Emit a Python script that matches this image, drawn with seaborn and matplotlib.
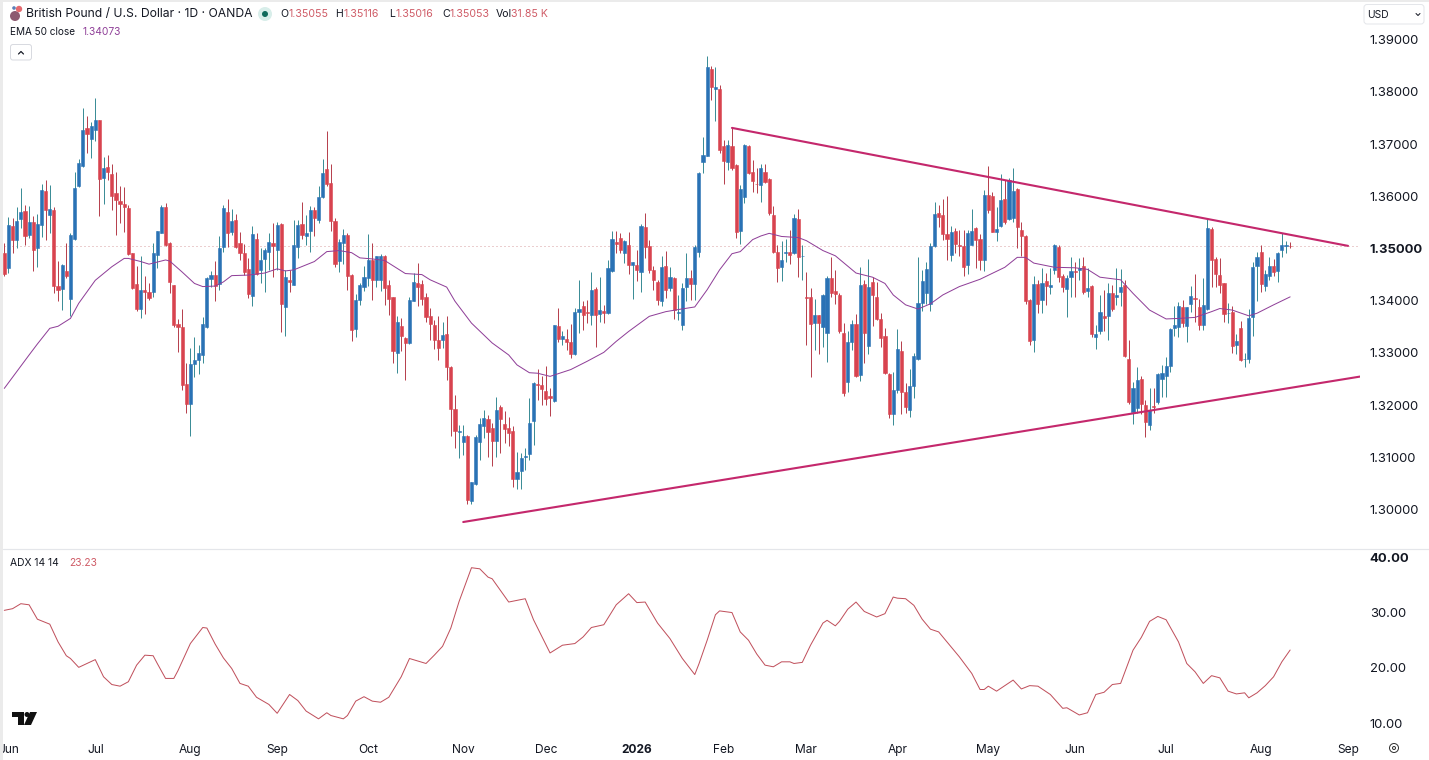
import numpy as np
import pandas as pd
import matplotlib.pyplot as plt
import seaborn as sns
from matplotlib.patches import Circle, FancyBboxPatch, Polygon, Rectangle


# Daily candles
opens = [
    1.3492,1.3462,1.3543,1.3516,1.3556,1.3572,1.3526,1.3551,1.3501,1.3545,
    1.3610,1.3564,1.3574,1.3428,1.3422,1.3457,1.3403,1.3519,1.3620,1.3658,
    1.3731,1.3710,1.3727,1.3746,1.3635,1.3656,1.3643,1.3606,1.3591,1.3586,
    1.3577,1.3491,1.3432,1.3384,1.3420,1.3416,1.3416,1.3487,1.3530,1.3579,
    1.3510,1.3430,1.3355,1.3349,1.3241,1.3203,1.3278,1.3286,1.3296,1.3350,
    1.3441,1.3450,1.3432,1.3503,1.3570,1.3531,1.3554,1.3510,1.3491,1.3460,
    1.3409,1.3519,1.3459,1.3479,1.3494,1.3511,1.3497,1.3547,1.3388,1.3439,
    1.3431,1.3503,1.3547,1.3524,1.3534,1.3574,1.3554,1.3598,1.3652,1.3625,
    1.3553,1.3476,1.3510,1.3526,1.3449,1.3345,1.3401,1.3427,1.3443,1.3477,
    1.3440,1.3440,1.3486,1.3430,1.3407,1.3299,1.3351,1.3328,1.3319,1.3400,
    1.3434,1.3432,1.3408,1.3371,1.3354,1.3325,1.3325,1.3336,1.3273,1.3193,
    1.3149,1.3130,1.3141,1.3017,1.3048,1.3129,1.3159,1.3174,1.3156,1.3132,
    1.3196,1.3164,1.3157,1.3151,1.3059,1.3074,1.3100,1.3107,1.3170,1.3241,
    1.3239,1.3227,1.3218,1.3207,1.3352,1.3327,1.3326,1.3321,1.3297,1.3379,
    1.3390,1.3379,1.3372,1.3423,1.3375,1.3381,1.3376,1.3456,1.3512,1.3520,
    1.3491,1.3507,1.3469,1.3469,1.3454,1.3541,1.3504,1.3459,1.3436,1.3400,
    1.3467,1.3425,1.3444,1.3377,1.3353,1.3426,1.3443,1.3432,1.3494,1.3666,
    1.3678,1.3844,1.3806,1.3806,1.3696,1.3665,1.3697,1.3660,1.3533,1.3598,
    1.3696,1.3646,1.3624,1.3622,1.3646,1.3633,1.3564,1.3493,1.3464,1.3492,
    1.3493,1.3491,1.3556,1.3485,1.3408,1.3408,1.3357,1.3373,1.3350,1.3339,
    1.3444,1.3419,1.3411,1.3339,1.3244,1.3320,1.3355,1.3258,1.3432,1.3314,
    1.3436,1.3407,1.3365,1.3332,1.3260,1.3183,1.3228,1.3304,1.3225,1.3191,
    1.3237,1.3288,1.3395,1.3414,1.3393,1.3504,1.3568,1.3564,1.3528,1.3488,
    1.3534,1.3507,1.3504,1.3469,1.3507,1.3539,1.3518,1.3477,1.3603,1.3601,
    1.3532,1.3543,1.3594,1.3556,1.3558,1.3614,1.3536,1.3524,1.3401,1.3325,
    1.3432,1.3401,1.3438,1.3426,1.3459,1.3502,1.3447,1.3422,1.3446,1.3457,
    1.3459,1.3466,1.3419,1.3429,1.3330,1.3341,1.3371,1.3371,1.3414,1.3408,
    1.3417,1.3430,1.3288,1.3187,1.3194,1.3250,1.3200,1.3162,1.3199,1.3205,
    1.3250,1.3256,1.3275,1.3347,1.3350,1.3387,1.3351,1.3394,1.3405,1.3388,
    1.3353,1.3385,1.3537,1.3479,1.3449,1.3433,1.3376,1.3378,1.3315,1.3347,
    1.3288,1.3289,1.3369,1.3467,1.3494,1.3429,1.3447,1.3466,1.3456,1.3497,1.35055,1.35055,
]
highs = [
    1.3510,1.3560,1.3558,1.3580,1.3616,1.3583,1.3582,1.3563,1.3567,1.3623,
    1.3632,1.3622,1.3580,1.3476,1.3471,1.3510,1.3530,1.3647,1.3671,1.3770,
    1.3753,1.3743,1.3788,1.3747,1.3675,1.3680,1.3661,1.3646,1.3620,1.3618,
    1.3584,1.3492,1.3466,1.3485,1.3447,1.3433,1.3510,1.3533,1.3583,1.3588,
    1.3513,1.3430,1.3364,1.3385,1.3280,1.3310,1.3330,1.3315,1.3368,1.3446,
    1.3457,1.3476,1.3524,1.3583,1.3594,1.3575,1.3566,1.3531,1.3508,1.3481,
    1.3543,1.3529,1.3500,1.3500,1.3529,1.3548,1.3550,1.3548,1.3459,1.3459,
    1.3554,1.3554,1.3590,1.3564,1.3582,1.3580,1.3620,1.3671,1.3726,1.3661,
    1.3558,1.3519,1.3537,1.3529,1.3451,1.3413,1.3433,1.3466,1.3528,1.3510,
    1.3485,1.3490,1.3488,1.3440,1.3408,1.3370,1.3367,1.3331,1.3407,1.3453,
    1.3472,1.3440,1.3415,1.3386,1.3363,1.3370,1.3360,1.3370,1.3274,1.3220,
    1.3162,1.3162,1.3143,1.3053,1.3143,1.3175,1.3191,1.3181,1.3165,1.3215,
    1.3200,1.3188,1.3177,1.3159,1.3111,1.3109,1.3117,1.3213,1.3245,1.3269,
    1.3255,1.3275,1.3232,1.3354,1.3386,1.3341,1.3346,1.3356,1.3386,1.3439,
    1.3399,1.3402,1.3455,1.3426,1.3446,1.3392,1.3478,1.3533,1.3533,1.3530,
    1.3517,1.3531,1.3475,1.3498,1.3547,1.3568,1.3517,1.3466,1.3440,1.3486,
    1.3496,1.3464,1.3446,1.3411,1.3434,1.3491,1.3459,1.3507,1.3646,1.3713,
    1.3869,1.3849,1.3848,1.3814,1.3708,1.3708,1.3731,1.3661,1.3622,1.3700,
    1.3698,1.3670,1.3654,1.3662,1.3662,1.3635,1.3582,1.3507,1.3515,1.3518,
    1.3536,1.3566,1.3575,1.3507,1.3454,1.3425,1.3403,1.3373,1.3413,1.3447,
    1.3483,1.3458,1.3414,1.3357,1.3341,1.3363,1.3374,1.3465,1.3439,1.3479,
    1.3446,1.3435,1.3377,1.3347,1.3261,1.3264,1.3346,1.3322,1.3242,1.3269,
    1.3299,1.3483,1.3459,1.3475,1.3510,1.3590,1.3584,1.3594,1.3600,1.3543,
    1.3539,1.3536,1.3536,1.3536,1.3575,1.3541,1.3527,1.3612,1.3658,1.3609,
    1.3579,1.3643,1.3631,1.3635,1.3654,1.3616,1.3550,1.3526,1.3403,1.3448,
    1.3440,1.3462,1.3453,1.3462,1.3509,1.3507,1.3451,1.3449,1.3484,1.3475,
    1.3481,1.3483,1.3462,1.3430,1.3353,1.3411,1.3420,1.3433,1.3430,1.3462,
    1.3461,1.3440,1.3325,1.3245,1.3272,1.3256,1.3210,1.3232,1.3232,1.3261,
    1.3277,1.3293,1.3347,1.3389,1.3398,1.3401,1.3387,1.3429,1.3451,1.3404,
    1.3443,1.3556,1.3542,1.3483,1.3481,1.3433,1.3395,1.3390,1.3337,1.3362,
    1.3299,1.3385,1.3475,1.3494,1.3507,1.3459,1.3484,1.3479,1.3494,1.3529,1.3515,1.35116,
]
lows = [
    1.3447,1.3453,1.3492,1.3501,1.3540,1.3507,1.3521,1.3457,1.3464,1.3522,
    1.3516,1.3529,1.3415,1.3400,1.3382,1.3443,1.3370,1.3516,1.3618,1.3657,
    1.3682,1.3674,1.3705,1.3563,1.3585,1.3631,1.3574,1.3526,1.3548,1.3532,
    1.3487,1.3423,1.3381,1.3366,1.3374,1.3402,1.3407,1.3462,1.3529,1.3505,
    1.3415,1.3350,1.3302,1.3229,1.3185,1.3141,1.3254,1.3259,1.3281,1.3347,
    1.3427,1.3400,1.3420,1.3494,1.3503,1.3526,1.3500,1.3478,1.3449,1.3406,
    1.3390,1.3449,1.3433,1.3417,1.3459,1.3446,1.3459,1.3340,1.3333,1.3417,
    1.3430,1.3482,1.3519,1.3507,1.3494,1.3524,1.3548,1.3596,1.3620,1.3534,
    1.3464,1.3454,1.3471,1.3420,1.3323,1.3330,1.3392,1.3418,1.3429,1.3402,
    1.3427,1.3418,1.3392,1.3373,1.3280,1.3262,1.3303,1.3248,1.3317,1.3399,
    1.3390,1.3392,1.3360,1.3325,1.3307,1.3287,1.3309,1.3248,1.3140,1.3117,
    1.3098,1.3105,1.3011,1.3011,1.3047,1.3095,1.3137,1.3101,1.3084,1.3101,
    1.3109,1.3127,1.3121,1.3044,1.3039,1.3039,1.3076,1.3094,1.3124,1.3210,
    1.3200,1.3200,1.3180,1.3205,1.3320,1.3315,1.3306,1.3290,1.3296,1.3338,
    1.3343,1.3357,1.3354,1.3312,1.3360,1.3357,1.3375,1.3454,1.3492,1.3491,
    1.3472,1.3452,1.3403,1.3437,1.3416,1.3482,1.3453,1.3421,1.3392,1.3389,
    1.3405,1.3418,1.3365,1.3363,1.3343,1.3399,1.3402,1.3402,1.3484,1.3645,
    1.3677,1.3785,1.3744,1.3682,1.3623,1.3651,1.3651,1.3520,1.3509,1.3587,
    1.3643,1.3609,1.3606,1.3590,1.3625,1.3564,1.3491,1.3435,1.3437,1.3475,
    1.3470,1.3490,1.3446,1.3440,1.3315,1.3253,1.3306,1.3298,1.3312,1.3283,
    1.3408,1.3394,1.3339,1.3218,1.3226,1.3306,1.3253,1.3247,1.3280,1.3298,
    1.3352,1.3363,1.3312,1.3260,1.3175,1.3161,1.3223,1.3182,1.3184,1.3178,
    1.3213,1.3287,1.3381,1.3394,1.3381,1.3502,1.3542,1.3516,1.3478,1.3476,
    1.3491,1.3485,1.3447,1.3451,1.3506,1.3463,1.3458,1.3456,1.3568,1.3531,
    1.3515,1.3542,1.3547,1.3555,1.3550,1.3500,1.3485,1.3394,1.3315,1.3302,
    1.3376,1.3376,1.3392,1.3413,1.3451,1.3435,1.3417,1.3368,1.3408,1.3408,
    1.3440,1.3413,1.3408,1.3331,1.3307,1.3336,1.3341,1.3325,1.3381,1.3392,
    1.3390,1.3293,1.3202,1.3164,1.3184,1.3183,1.3139,1.3153,1.3184,1.3203,
    1.3216,1.3216,1.3264,1.3332,1.3330,1.3349,1.3321,1.3379,1.3360,1.3343,
    1.3343,1.3383,1.3427,1.3427,1.3414,1.3360,1.3357,1.3299,1.3298,1.3285,
    1.3273,1.3280,1.3332,1.3400,1.3417,1.3419,1.3440,1.3447,1.3435,1.3483,1.3492,1.35016,
]
closes = [
    1.3451,1.3545,1.3516,1.3553,1.3570,1.3524,1.3551,1.3497,1.3547,1.3612,
    1.3574,1.3576,1.3428,1.3420,1.3468,1.3447,1.3525,1.3615,1.3664,1.3727,
    1.3719,1.3735,1.3746,1.3634,1.3655,1.3646,1.3600,1.3592,1.3585,1.3579,
    1.3489,1.3425,1.3384,1.3420,1.3416,1.3406,1.3491,1.3533,1.3579,1.3507,
    1.3436,1.3353,1.3349,1.3238,1.3203,1.3278,1.3286,1.3299,1.3356,1.3443,
    1.3450,1.3429,1.3500,1.3577,1.3529,1.3553,1.3503,1.3492,1.3454,1.3413,
    1.3528,1.3452,1.3478,1.3497,1.3512,1.3505,1.3545,1.3393,1.3445,1.3436,
    1.3507,1.3545,1.3526,1.3530,1.3574,1.3558,1.3599,1.3644,1.3623,1.3553,
    1.3470,1.3512,1.3525,1.3447,1.3344,1.3401,1.3430,1.3445,1.3477,1.3439,
    1.3485,1.3486,1.3425,1.3404,1.3304,1.3360,1.3333,1.3319,1.3402,1.3436,
    1.3426,1.3404,1.3369,1.3356,1.3325,1.3310,1.3335,1.3272,1.3193,1.3151,
    1.3151,1.3140,1.3018,1.3052,1.3139,1.3164,1.3175,1.3149,1.3132,1.3191,
    1.3174,1.3154,1.3146,1.3059,1.3072,1.3099,1.3103,1.3165,1.3243,1.3239,
    1.3231,1.3211,1.3213,1.3353,1.3327,1.3333,1.3321,1.3298,1.3379,1.3385,
    1.3372,1.3376,1.3421,1.3373,1.3383,1.3376,1.3462,1.3518,1.3508,1.3498,
    1.3514,1.3469,1.3475,1.3459,1.3544,1.3503,1.3458,1.3440,1.3402,1.3464,
    1.3421,1.3446,1.3383,1.3379,1.3425,1.3443,1.3432,1.3503,1.3645,1.3679,
    1.3848,1.3809,1.3809,1.3688,1.3667,1.3698,1.3654,1.3531,1.3613,1.3698,
    1.3645,1.3629,1.3623,1.3654,1.3628,1.3568,1.3494,1.3463,1.3478,1.3493,
    1.3488,1.3558,1.3483,1.3486,1.3406,1.3355,1.3373,1.3358,1.3411,1.3443,
    1.3414,1.3412,1.3341,1.3224,1.3320,1.3355,1.3256,1.3430,1.3339,1.3427,
    1.3410,1.3364,1.3329,1.3261,1.3183,1.3228,1.3307,1.3226,1.3197,1.3236,
    1.3294,1.3395,1.3437,1.3460,1.3505,1.3566,1.3561,1.3527,1.3518,1.3532,
    1.3509,1.3504,1.3465,1.3529,1.3533,1.3516,1.3477,1.3603,1.3574,1.3532,
    1.3537,1.3593,1.3550,1.3631,1.3610,1.3541,1.3523,1.3400,1.3323,1.3432,
    1.3394,1.3434,1.3428,1.3430,1.3507,1.3446,1.3427,1.3443,1.3457,1.3454,
    1.3463,1.3416,1.3424,1.3337,1.3337,1.3378,1.3366,1.3414,1.3385,1.3411,
    1.3426,1.3294,1.3205,1.3233,1.3249,1.3202,1.3167,1.3190,1.3196,1.3259,
    1.3261,1.3275,1.3346,1.3353,1.3389,1.3358,1.3387,1.3409,1.3403,1.3353,
    1.3391,1.3539,1.3478,1.3451,1.3431,1.3374,1.3377,1.3314,1.3323,1.3286,
    1.3289,1.3366,1.3464,1.3483,1.3432,1.3451,1.3467,1.3454,1.3491,1.3507,1.3507,1.35053,
]

# EMA 50, read at the bars where its shape turns
ema_bars = [
    0,3,6,8,11,13,16,18,22,26,29,30,33,35,39,40,43,46,48,51,53,55,59,63,66,68,70,75,78,81,84,86,
    89,92,95,97,101,103,107,109,113,118,122,124,127,129,132,137,141,145,148,151,156,160,163,167,
    170,173,176,178,181,183,185,188,192,194,198,201,206,210,213,215,218,221,224,227,231,236,242,
    245,247,249,254,259,262,265,270,273,277,281,284,288,292,294,297,301,303,307,311,
]
ema_values = [
    1.3232,1.3264,1.3296,1.3317,1.3347,1.3351,1.3366,1.3395,1.3439,1.3465,1.3481,1.3481,1.3475,
    1.3470,1.3478,1.3476,1.3455,1.3433,1.3427,1.3428,1.3436,1.3448,1.3449,1.3453,1.3461,1.3457,
    1.3459,1.3475,1.3494,1.3496,1.3492,1.3482,1.3480,1.3477,1.3462,1.3452,1.3450,1.3440,1.3426,
    1.3399,1.3357,1.3319,1.3296,1.3277,1.3262,1.3261,1.3255,1.3268,1.3284,1.3301,1.3322,1.3341,
    1.3370,1.3379,1.3383,1.3388,1.3421,1.3459,1.3490,1.3494,1.3517,1.3524,1.3529,1.3523,1.3521,
    1.3515,1.3496,1.3486,1.3453,1.3445,1.3433,1.3411,1.3392,1.3384,1.3394,1.3411,1.3427,1.3441,
    1.3464,1.3483,1.3483,1.3472,1.3464,1.3463,1.3460,1.3445,1.3440,1.3414,1.3382,1.3365,1.3366,
    1.3368,1.3379,1.3385,1.3382,1.3371,1.3376,1.3392,1.34073,
]

# ADX 14 14, same idea
adx_bars = [
    0,2,4,6,8,11,13,15,16,18,20,22,24,26,28,30,32,34,36,37,39,41,42,45,48,49,51,53,55,57,59,61,64,
    66,69,71,73,76,78,79,82,83,85,87,89,91,93,96,98,102,104,106,108,110,113,115,117,118,122,126,
    128,132,135,138,140,142,145,148,151,153,155,158,161,164,167,168,170,172,173,176,178,180,182,
    184,186,188,190,191,193,195,198,199,201,202,204,206,208,211,213,215,216,218,220,222,224,226,
    228,231,234,236,237,238,240,244,246,248,250,253,256,257,260,262,264,266,268,270,273,275,277,
    279,281,284,286,288,290,292,294,296,298,300,301,303,305,307,309,311,
]
adx_values = [
    30.4,30.7,31.6,31.4,28.8,27.9,24.7,22.2,21.7,20.1,20.8,21.5,18.4,17.0,16.7,17.5,20.5,22.3,22.2,
    20.8,18.1,18.1,19.5,24.4,27.3,27.2,24.3,21.8,19.9,17.2,16.7,14.7,13.4,11.8,15.2,14.1,12.2,10.8,
    11.9,11.4,10.8,11.4,14.0,14.8,14.0,13.8,14.7,18.4,21.7,20.8,22.3,23.9,27.2,32.0,38.1,37.9,36.4,
    36.1,31.9,32.5,28.7,22.7,24.1,24.4,25.6,27.3,27.8,31.4,33.4,31.8,31.9,28.1,25.3,21.7,18.8,20.7,
    25.0,29.6,30.3,30.0,26.5,25.0,22.5,20.5,20.2,21.1,21.1,20.8,21.0,24.1,28.1,28.6,27.6,28.4,30.6,
    31.9,30.2,29.2,29.8,32.8,32.6,32.5,31.3,28.8,27.0,26.5,24.7,22.0,19.0,16.1,16.1,16.7,15.8,17.8,
    16.2,16.8,16.7,15.2,12.7,12.8,11.5,11.9,15.2,15.6,17.0,17.2,23.2,25.5,28.4,29.3,28.7,24.7,20.8,
    19.3,17.2,18.6,18.2,15.8,15.3,15.5,14.6,15.5,16.8,18.4,21.1,23.23,
]

# Hand drawn triangle lines
upper_line_bars = [176, 325]
upper_line_values = [1.3731, 1.3505]
lower_line_bars = [111, 329]
lower_line_values = [1.2976, 1.3256]

# Axis labels
price_ticks = [1.30, 1.31, 1.32, 1.33, 1.34, 1.35, 1.36, 1.37, 1.38, 1.39]
adx_ticks = [10, 20, 30, 40]
month_bars = [1, 22, 45, 66, 88, 111, 131, 153, 174, 194, 216, 238, 259, 281, 304, 325]
month_labels = ["Jun", "Jul", "Aug", "Sep", "Oct", "Nov", "Dec", "2026", "Feb", "Mar", "Apr",
                "May", "Jun", "Jul", "Aug", "Sep"]
last_close = 1.35053

# Colours
UP = "#2a72b5"
DOWN = "#d8434f"
UP_WICK = "#3c8d97"
DOWN_WICK = "#b7424f"
EMA_COLOR = "#8f3f98"
ADX_COLOR = "#c0505c"
LINE_COLOR = "#c4286c"
TEXT = "#131722"
FONT = ["Inter", "DejaVu Sans"]

W, H = 1429, 760
PX = 0.72  # one pixel in points at dpi 100


def axes_rect(left, top, right, bottom):
    return [left / W, 1 - bottom / H, (right - left) / W, (bottom - top) / H]


# Candles go on with plain vlines and bars, the rest through seaborn
def draw_candles(ax, candles):
    up = candles["close"] >= candles["open"]
    wick_colors = np.where(up, UP_WICK, DOWN_WICK)
    body_colors = np.where(up, UP, DOWN)
    ax.vlines(candles["bar"], candles["low"], candles["high"], colors=wick_colors, lw=PX, zorder=2)
    ax.bar(candles["bar"], (candles["close"] - candles["open"]).abs(),
           bottom=candles[["open", "close"]].min(axis=1), width=0.76,
           color=body_colors, edgecolor=body_colors, linewidth=0.4, zorder=3)


def draw_price_pane(ax, candles):
    draw_candles(ax, candles)
    ax.axhline(last_close, color="#d99ea0", lw=PX, ls=(0, (1, 3)), zorder=1)
    sns.lineplot(x=ema_bars, y=ema_values, ax=ax, color=EMA_COLOR, lw=1.0 * PX, zorder=4)
    sns.lineplot(x=upper_line_bars, y=upper_line_values, ax=ax, color=LINE_COLOR, lw=2.1 * PX, zorder=5)
    sns.lineplot(x=lower_line_bars, y=lower_line_values, ax=ax, color=LINE_COLOR, lw=2.1 * PX, zorder=5)
    ax.set_ylim(1.29262, 1.39722)
    ax.set_yticks(price_ticks)
    ax.set_yticklabels([f"{t:.5f}" for t in price_ticks])
    ax.set_xticks([])


def draw_adx_pane(ax):
    sns.lineplot(x=adx_bars, y=adx_values, ax=ax, color=ADX_COLOR, lw=1.0 * PX)
    ax.set_ylim(7.7, 41.3)
    ax.set_yticks(adx_ticks)
    ax.set_yticklabels([f"{t:.2f}" for t in adx_ticks])
    ax.set_xticks(month_bars)
    ax.set_xticklabels(month_labels)
    for label in ax.get_xticklabels():
        if label.get_text() == "2026":
            label.set_fontweight("bold")


# Header, buttons and logo, placed in pixels on a see through overlay
def draw_chrome(fig):
    ui = fig.add_axes([0, 0, 1, 1], facecolor="none")
    ui.set_xlim(0, W)
    ui.set_ylim(H, 0)
    ui.axis("off")

    ui.add_patch(Rectangle((0, 0), 3, H, color="#ebebeb", lw=0))
    ui.add_patch(Rectangle((0, 0), W, 1.5, color="#ebebeb", lw=0))
    ui.plot([3, W], [549, 549], color="#e4e6ea", lw=1.2 * PX)

    # flag
    ui.add_patch(Circle((15, 16), 5, color="#8d5a70", lw=0))
    ui.add_patch(Circle((19, 9), 3.2, color="#e46a6f", lw=0))
    ui.add_patch(Circle((14, 8), 1.8, color="#5b7fb8", lw=0))

    ui.text(26, 14, "British Pound / U.S. Dollar · 1D · OANDA", fontsize=8.75, color=TEXT, va="center")
    ui.add_patch(Circle((265, 14), 7, color="#d8eeea", lw=0))
    ui.add_patch(Circle((265, 14), 3, color="#0f6b5c", lw=0))

    for x, key, x_val, val in [(280, "O", 289, "1.35055"), (335, "H", 344, "1.35116"),
                               (389, "L", 396, "1.35016"), (442, "C", 450, "1.35053"),
                               (496, "Vol", 511, "31.85 K")]:
        ui.text(x, 14, key, fontsize=7.6, color=TEXT, va="center")
        ui.text(x_val, 14, val, fontsize=7.6, color="#cf5b66", va="center")

    ui.text(10, 32, "EMA 50 close", fontsize=7.2, color=TEXT, va="center")
    ui.text(83, 32, "1.34073", fontsize=7.4, color=EMA_COLOR, va="center")
    ui.text(10, 562.5, "ADX 14 14", fontsize=7.4, color=TEXT, va="center")
    ui.text(69, 562.5, "23.23", fontsize=7.4, color="#cf5b66", va="center")

    ui.add_patch(FancyBboxPatch((10.5, 44.5), 21, 15.5, boxstyle="round,pad=0,rounding_size=2.5",
                                fc="white", ec="#d8dae0", lw=PX))
    ui.plot([18.5, 21, 23.5], [54, 51.5, 54], color=TEXT, lw=1.2 * PX)

    ui.add_patch(FancyBboxPatch((1364, 4.5), 60, 19.5, boxstyle="round,pad=0,rounding_size=3",
                                fc="white", ec="#e4e6ea", lw=PX))
    ui.text(1367, 14.5, "USD", fontsize=7.4, color=TEXT, va="center")
    ui.plot([1416, 1418, 1420], [13.5, 15.5, 13.5], color=TEXT, lw=1 * PX)

    # TradingView mark
    ui.add_patch(Polygon([(12, 712), (24, 712), (24, 725), (18, 725), (18, 717), (12, 717)], color="#111111", lw=0))
    ui.add_patch(Circle((27, 714.5), 2.5, color="#111111", lw=0))
    ui.add_patch(Polygon([(30, 712), (37, 712), (31, 725), (24, 725)], color="#111111", lw=0))

    # settings cog
    ui.add_patch(Circle((1394, 748), 4.5, fc="white", ec="#333333", lw=1.0 * PX))
    ui.add_patch(Circle((1394, 748), 1.5, fc="white", ec="#333333", lw=1.0 * PX))


def main():
    sns.set_theme(style="white", rc={"axes.edgecolor": "white", "axes.linewidth": 0})
    plt.rcParams["font.family"] = FONT

    candles = pd.DataFrame({"open": opens, "high": highs, "low": lows, "close": closes})
    candles["bar"] = range(len(candles))

    fig = plt.figure(figsize=(W / 100, H / 100), dpi=100, facecolor="white")
    ax_price = fig.add_axes(axes_rect(0, 2, 1360, 548))
    ax_adx = fig.add_axes(axes_rect(0, 550, 1360, 736))

    draw_price_pane(ax_price, candles)
    draw_adx_pane(ax_adx)

    for ax in (ax_price, ax_adx):
        ax.set_xlim(-1.04, 327.9)
        ax.yaxis.tick_right()
        ax.tick_params(axis="y", length=0, pad=7, labelsize=9.4, labelcolor=TEXT)
        ax.tick_params(axis="x", length=0, pad=5.5, labelsize=8.6, labelcolor=TEXT)
        sns.despine(ax=ax, left=True, bottom=True)
        # the scale reads from the right hand labels, so the bold goes on label2
        for tick in ax.yaxis.get_major_ticks():
            if tick.label2.get_text() in ("1.35000", "40.00"):
                tick.label2.set_fontweight("bold")

    draw_chrome(fig)
    fig.savefig("out.png", dpi=100)


if __name__ == "__main__":
    main()
